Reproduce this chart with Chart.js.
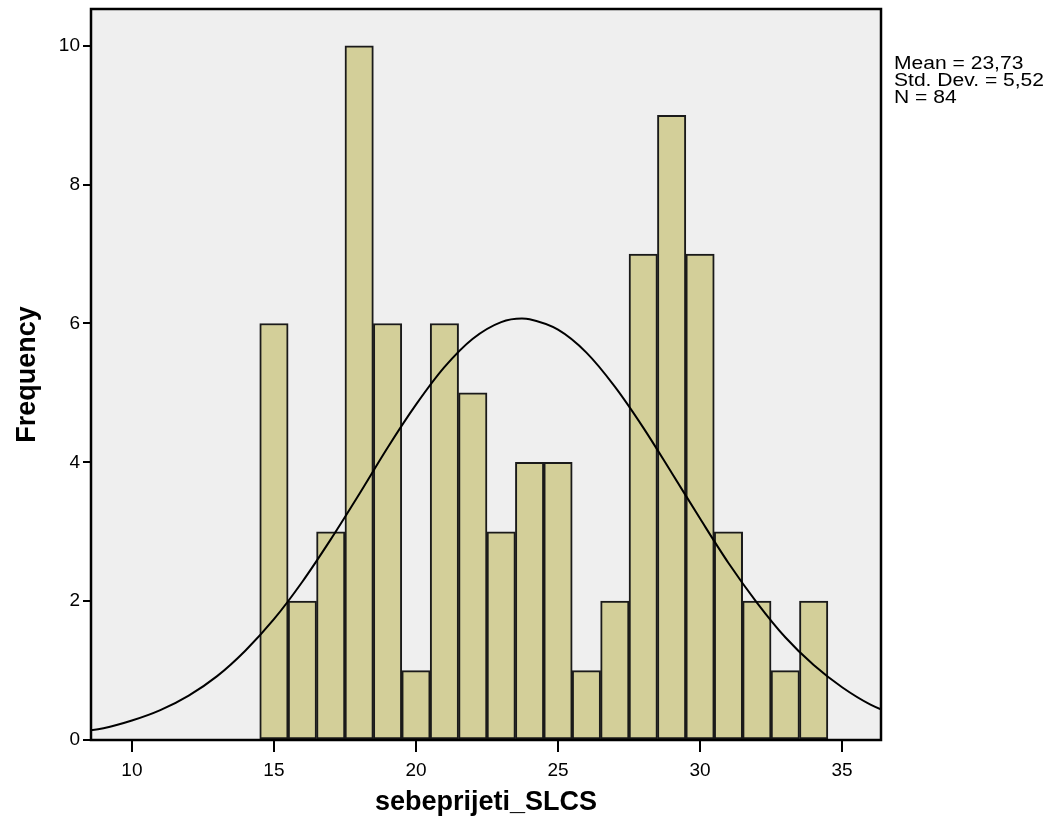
<!DOCTYPE html>
<html lang="en">
<head>
  <meta charset="UTF-8">
  <title>sebeprijeti_SLCS histogram</title>
  <script src="https://cdn.jsdelivr.net/npm/chart.js"></script>
  <style>
    html, body { margin: 0; padding: 0; background: #fff; }
    #wrap { width: 1053px; height: 836px; }
  </style>
</head>
<body>
  <div id="wrap">
    <canvas id="histChart" width="1053" height="836"></canvas>
  </div>

  <script>
    // bins (width 1, centred on whole numbers) and their frequencies
    const binCenters = [15, 16, 17, 18, 19, 20, 21, 22, 23, 24, 25, 26, 27, 28, 29, 30, 31, 32, 33, 34];
    const counts     = [6, 2, 3, 10, 6, 1, 6, 5, 3, 4, 4, 1, 2, 7, 9, 7, 3, 2, 1, 2];

    // normal curve
    const curveX = [8, 9, 10, 11, 12, 13, 14, 15, 16, 17, 18, 19, 20, 21, 22, 23, 23.73, 24, 25, 26, 27, 28, 29, 30, 31, 32, 33, 34, 35, 36, 37];
    const curveY = [0.11, 0.17, 0.28, 0.43, 0.64, 0.92, 1.29, 1.74, 2.28, 2.89, 3.54, 4.21, 4.83, 5.37, 5.78, 6.02, 6.07, 6.06, 5.91, 5.58, 5.09, 4.50, 3.85, 3.19, 2.55, 1.98, 1.48, 1.08, 0.76, 0.51, 0.34];

    const xTicks = [10, 15, 20, 25, 30, 35];
    const yTicks = [0, 2, 4, 6, 8, 10];
    const statLines = ['Mean = 23,73', 'Std. Dev. = 5,52', 'N = 84'];

    const FONT = "'Liberation Sans', Arial, Helvetica, sans-serif";

    const framePlugin = {
      id: 'frame',
      beforeDraw(chart) {
        const c = chart.ctx, a = chart.chartArea;
        c.save();
        c.fillStyle = '#ffffff';
        c.fillRect(0, 0, chart.width, chart.height);
        c.fillStyle = '#efefef';
        c.fillRect(a.left, a.top, a.right - a.left, a.bottom - a.top);
        c.restore();
      },
      afterDraw(chart) {
        const c = chart.ctx, a = chart.chartArea;
        c.save();
        c.strokeStyle = '#000';
        c.lineWidth = 2.5;
        c.strokeRect(a.left, a.top, a.right - a.left, a.bottom - a.top);
        // stats box text, a bit wider than the plain font like SPSS draws it
        c.fillStyle = '#000';
        c.font = '18px ' + FONT;
        c.textBaseline = 'alphabetic';
        c.textAlign = 'left';
        c.translate(894, 0);
        c.scale(1.17, 1);
        statLines.forEach((t, i) => c.fillText(t, 0, 69 + i * 17));
        c.restore();
      }
    };

    const ctx = document.getElementById('histChart').getContext('2d');
    const histChart = new Chart(ctx, {
      type: 'bar',
      data: {
        datasets: [
          {
            type: 'line',
            data: curveX.map((x, i) => ({ x: x, y: curveY[i] })),
            borderColor: '#000',
            borderWidth: 2,
            pointRadius: 0,
            cubicInterpolationMode: 'monotone',
            fill: false,
            order: 0
          },
          {
            type: 'bar',
            data: binCenters.map((x, i) => ({ x: x, y: counts[i] })),
            backgroundColor: '#d3cf99',
            borderColor: '#1a1a1a',
            borderWidth: 2,
            borderSkipped: false,
            barPercentage: 1,
            categoryPercentage: 1,
            order: 1
          }
        ]
      },
      options: {
        responsive: false,
        animation: false,
        layout: { padding: { top: 9, right: 172, left: 0, bottom: 0 } },
        plugins: {
          legend: { display: false },
          tooltip: { enabled: false }
        },
        scales: {
          x: {
            type: 'linear',
            offset: false,
            min: 8.56,
            max: 36.37,
            afterBuildTicks(scale) { scale.ticks = xTicks.map(v => ({ value: v })); },
            afterFit(scale) { scale.height = 96; scale.paddingLeft = 0; scale.paddingRight = 0; },
            grid: { offset: false, drawOnChartArea: false, drawTicks: true, tickLength: 12, color: '#000', lineWidth: 2 },
            border: { display: false },
            ticks: { color: '#000', padding: 7, font: { family: FONT, size: 19 }, maxRotation: 0 },
            title: {
              display: true,
              text: 'sebeprijeti_SLCS',
              color: '#000',
              font: { family: FONT, size: 27, weight: 'bold' },
              padding: { top: 0, bottom: 17 }
            }
          },
          y: {
            min: 0,
            max: 10.53,
            afterBuildTicks(scale) { scale.ticks = yTicks.map(v => ({ value: v })); },
            afterFit(scale) { scale.width = 91; scale.paddingTop = 0; scale.paddingBottom = 0; },
            grid: { drawOnChartArea: false, drawTicks: true, tickLength: 8, color: '#000', lineWidth: 2 },
            border: { display: false },
            ticks: { color: '#000', padding: 3, font: { family: FONT, size: 19 } },
            title: {
              display: true,
              text: 'Frequency',
              color: '#000',
              font: { family: FONT, size: 27, weight: 'bold' },
              padding: { top: 11, bottom: 0 }
            }
          }
        }
      },
      plugins: [framePlugin]
    });
  </script>
</body>
</html>
